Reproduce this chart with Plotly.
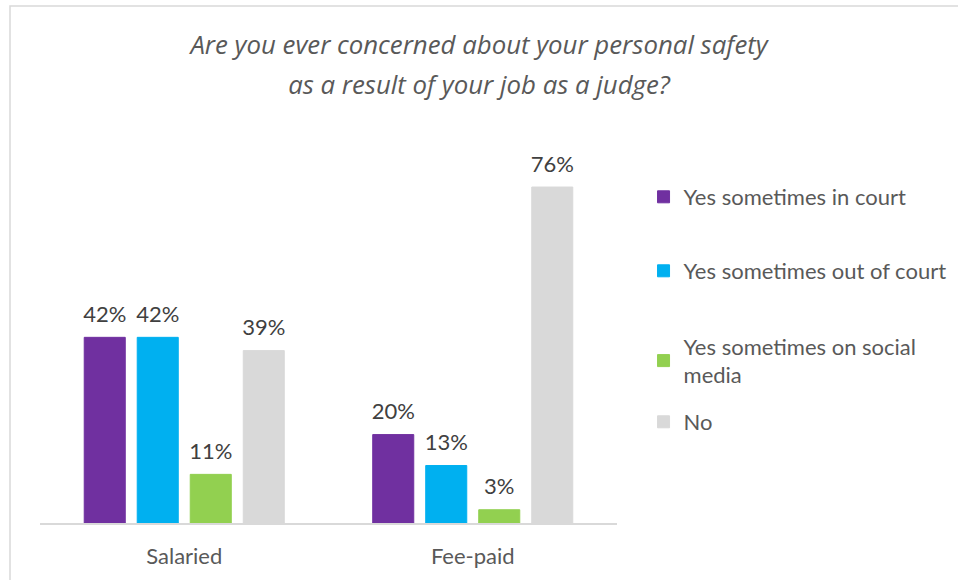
import plotly.graph_objects as go

categories = ["Salaried", "Fee-paid"]
series_names = ["Yes sometimes in court", "Yes sometimes out of court",
                "Yes sometimes on social<br>media", "No"]
in_court = [42, 20]
out_of_court = [42, 13]
social_media = [11, 3]
no_concern = [39, 76]
colors = ["#7030A0", "#00B0F0", "#92D050", "#D9D9D9"]
title_lines = ["Are you ever concerned about your personal safety",
               "as a result of your job as a judge?"]

FONT = "Lato"
legend_ids = ["legend", "legend2", "legend3", "legend4"]
legend_y = [0.8295, 0.6412, 0.4122, 0.257]

fig = go.Figure()
for i, (name, vals) in enumerate(zip(series_names,
                                     [in_court, out_of_court, social_media, no_concern])):
    fig.add_trace(go.Bar(
        x=categories, y=vals, name=name,
        marker=dict(color=colors[i], line=dict(color=colors[i], width=1)),
        legend=legend_ids[i],
        text=[f"<span style='font-size:22px'>{v}%</span><br> " for v in vals],
        textposition="outside", constraintext="none", cliponaxis=False,
        textfont=dict(family=FONT, size=8, color="#404040"),
        hoverinfo="skip",
    ))

legend_common = dict(x=1.046, xanchor="left", yanchor="middle",
                     itemwidth=30, bgcolor="rgba(0,0,0,0)",
                     font=dict(family=FONT, size=22, color="#595959"))
layout_legends = {}
for lid, ly in zip(legend_ids, legend_y):
    layout_legends[lid] = dict(legend_common, y=ly)

title_html = "<br>".join(f"<span style='font-size:25.8px'>{t}</span>" for t in title_lines)

fig.update_layout(
    width=958, height=580,
    margin=dict(l=40, r=341, t=130, b=57, autoexpand=False),
    paper_bgcolor="white", plot_bgcolor="white",
    barmode="group", bargap=0.265, bargroupgap=0.226,
    title=dict(text=title_html, x=0.5, xref="container", xanchor="center",
               y=0.907, yref="container", yanchor="middle",
               font=dict(family="Open Sans", size=31, color="#595959", style="italic")),
    font=dict(family=FONT, size=22, color="#595959"),
    showlegend=True,
    **layout_legends,
)
fig.update_xaxes(showline=True, linecolor="#D9D9D9", linewidth=1.5,
                 ticks="", ticklabelstandoff=13,
                 tickfont=dict(family=FONT, size=22, color="#595959"),
                 showgrid=False)
fig.update_yaxes(range=[0, 88.9], visible=False, showgrid=False)

fig.add_shape(type="rect", xref="paper", yref="paper",
              x0=-0.052, x1=1.7, y0=-0.2, y1=1.3155,
              line=dict(color="#D9D9D9", width=1.5), layer="below")

fig.write_html("out.html", config={"displayModeBar": False},
               post_script="document.body.style.margin='0px';")
